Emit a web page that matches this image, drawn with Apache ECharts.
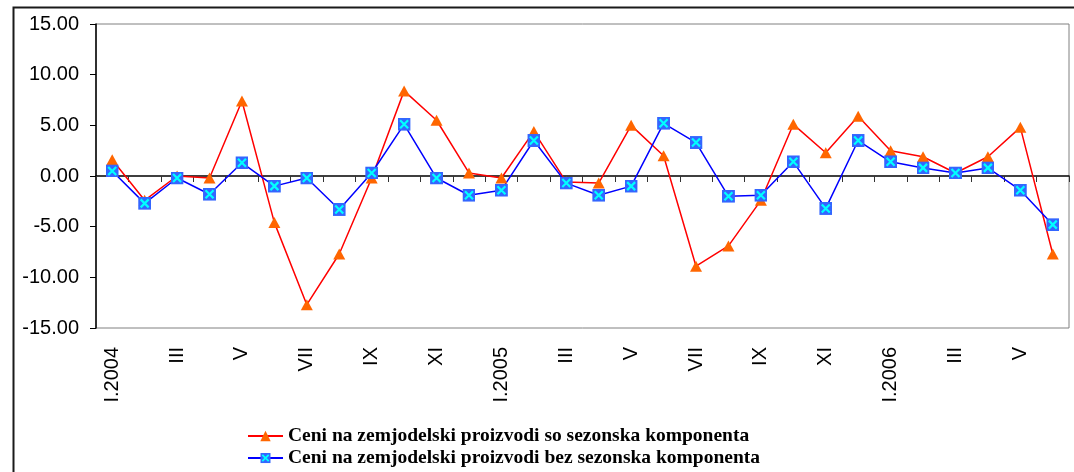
<!DOCTYPE html>
<html>
<head>
<meta charset="utf-8">
<script src="https://cdn.jsdelivr.net/npm/echarts@6/dist/echarts.min.js"></script>
<style>html,body{margin:0;padding:0;background:#fff;}#c{width:1074px;height:472px;}</style>
</head>
<body>
<div id="c"></div>
<script>
const categories = ['I.2004','II','III','IV','V','VI','VII','VIII','IX','X','XI','XII',
  'I.2005','II','III','IV','V','VI','VII','VIII','IX','X','XI','XII',
  'I.2006','II','III','IV','V','VI'];
const seasonal = [1.6,-2.4,0.0,-0.2,7.4,-4.6,-12.7,-7.7,-0.2,8.4,5.5,0.3,
  -0.2,4.4,-0.6,-0.7,5.0,2.0,-8.9,-6.9,-2.4,5.1,2.3,5.9,
  2.5,1.9,0.3,1.9,4.8,-7.7];
const adjusted = [0.5,-2.7,-0.2,-1.8,1.3,-1.0,-0.2,-3.3,0.3,5.1,-0.2,-1.9,
  -1.4,3.5,-0.7,-1.9,-1.0,5.2,3.3,-2.0,-1.9,1.4,-3.2,3.5,
  1.4,0.8,0.3,0.8,-1.4,-4.8];
const seriesNames = ['Ceni na zemjodelski proizvodi so sezonska komponenta',
  'Ceni na zemjodelski proizvodi bez sezonska komponenta'];
const yTicks = {min: -15, max: 15, interval: 5};

const svg = '<svg xmlns="http://www.w3.org/2000/svg" width="13" height="13" viewBox="0 0 13 13">' +
  '<rect width="13" height="13" fill="#3366ff"/>' +
  '<path d="M2.5 2.5L10.5 10.5M10.5 2.5L2.5 10.5" stroke="#00ffff" stroke-width="2.2"/></svg>';
const squareX = 'image://data:image/svg+xml;charset=utf-8,' + encodeURIComponent(svg);

const chart = echarts.init(document.getElementById('c'), null, {renderer: 'canvas'});
const labelFont = {fontFamily: 'Liberation Sans', fontSize: 20, color: '#000'};
chart.setOption({
  animation: false,
  backgroundColor: '#fff',
  graphic: [{
    type: 'rect', left: 11, top: 5, z: 100,
    shape: {x: 0, y: 0, width: 1200, height: 600},
    style: {fill: 'none', stroke: '#1a1a1a', lineWidth: 2}
  }],
  grid: {left: 96, right: 5, top: 24, bottom: 144, show: true,
    borderColor: '#808080', borderWidth: 1, backgroundColor: 'transparent'},
  legend: {
    orient: 'vertical', left: 247, top: 426, padding: 0, height: 46,
    itemWidth: 35, itemHeight: 13, itemGap: 2,
    textStyle: {fontFamily: 'Liberation Serif', fontWeight: 'bold', fontSize: 19.5, color: '#000', lineHeight: 20},
    data: seriesNames
  },
  xAxis: [{
    type: 'category', data: categories, position: 'bottom',
    boundaryGap: true,
    axisLine: {onZero: true, lineStyle: {color: '#000', width: 1.5}},
    axisTick: {show: true, interval: 0, length: 6, lineStyle: {color: '#333'}},
    axisLabel: {show: false},
    splitLine: {show: false}
  }, {
    type: 'category', data: categories, position: 'bottom',
    boundaryGap: true,
    axisLine: {show: false, onZero: false},
    axisTick: {show: false},
    axisLabel: Object.assign({show: true, interval: 1, rotate: 90, margin: 19}, labelFont),
    splitLine: {show: false}
  }],
  yAxis: {
    type: 'value', min: yTicks.min, max: yTicks.max, interval: yTicks.interval,
    axisLine: {show: true, lineStyle: {color: '#000', width: 1.5}},
    axisTick: {show: true, length: 6, lineStyle: {color: '#000'}},
    axisLabel: Object.assign({margin: 17, formatter: v => v.toFixed(2)}, labelFont),
    splitLine: {show: false}
  },
  series: [{
    name: seriesNames[0], type: 'line', xAxisIndex: 0, data: seasonal,
    symbol: 'triangle', symbolSize: [12, 11],
    itemStyle: {color: '#ff6600'},
    lineStyle: {color: '#ff0000', width: 1.5}
  }, {
    name: seriesNames[1], type: 'line', xAxisIndex: 0, data: adjusted,
    symbol: squareX, symbolSize: 13,
    itemStyle: {color: '#3366ff'},
    lineStyle: {color: '#0000ff', width: 1.5}
  }]
});
</script>
</body>
</html>
